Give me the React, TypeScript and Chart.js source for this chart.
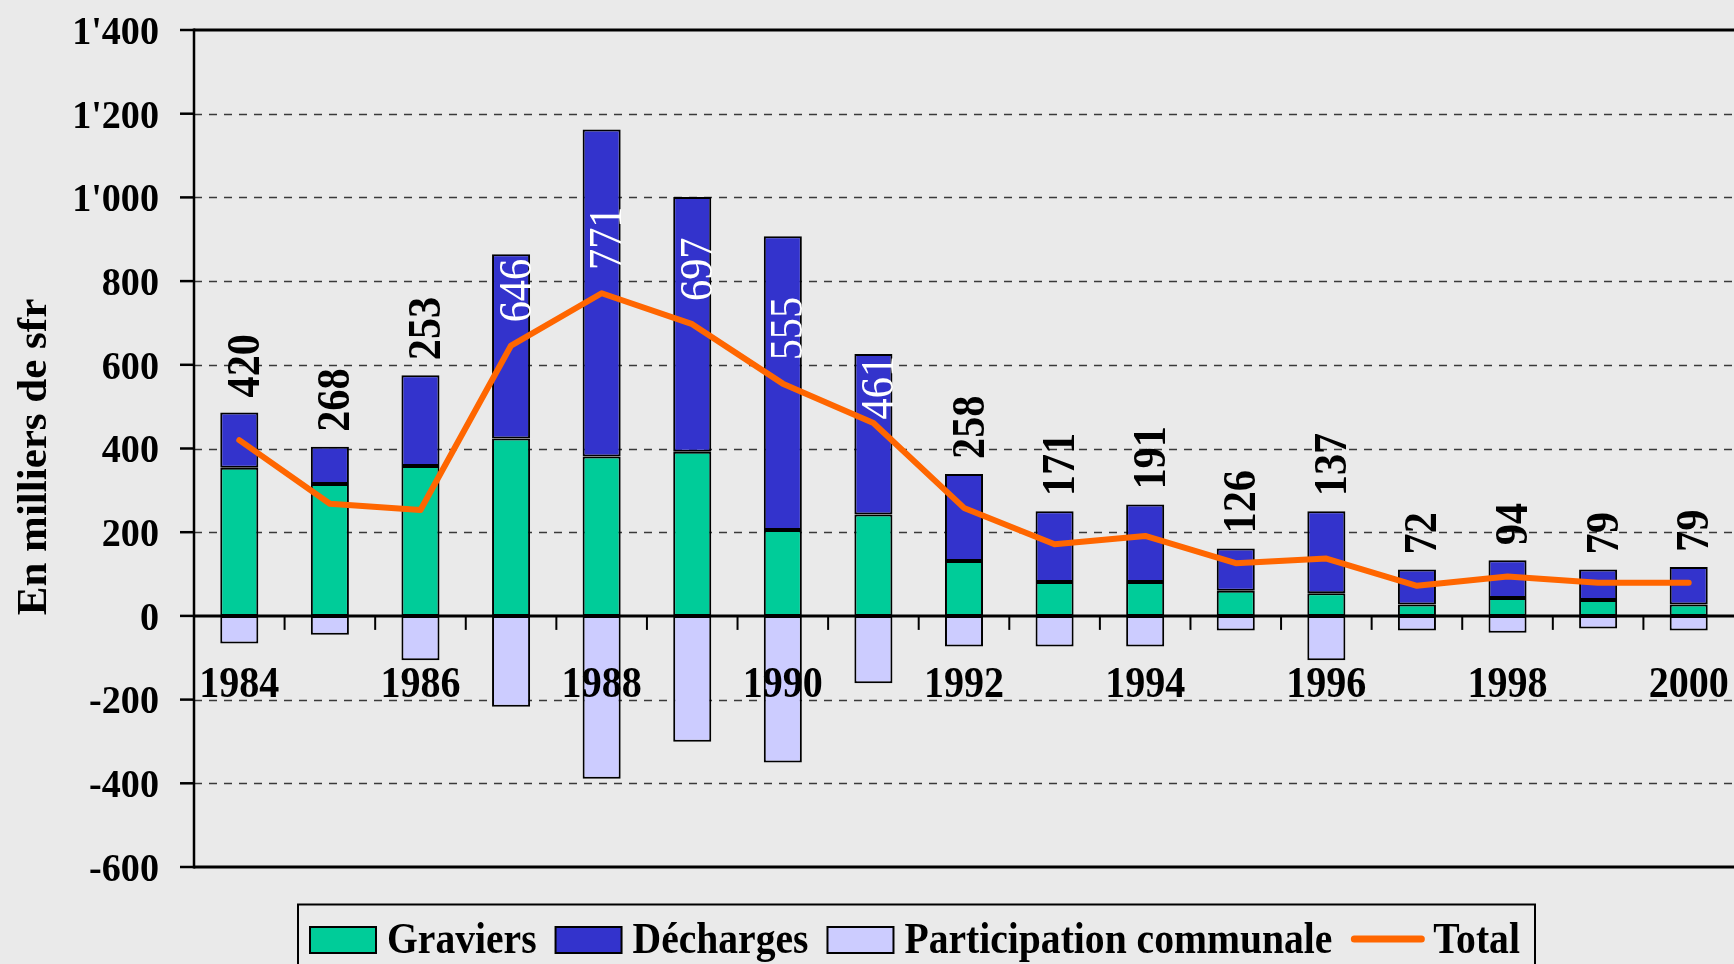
import React, { useEffect, useRef } from "react";
import { Chart, registerables } from "chart.js";

Chart.register(...registerables);

// ---- Data ----
const years = ["1984", "1985", "1986", "1987", "1988", "1989", "1990", "1991", "1992", "1993", "1994", "1995", "1996", "1997", "1998", "1999", "2000"];
const graviers = [354, 315, 358, 424, 381, 392, 205, 242, 131, 81, 81, 60, 54, 27, 43, 38, 27];
const decharges = [132, 89, 217, 440, 781, 609, 702, 384, 208, 169, 185, 101, 196, 84, 90, 73, 90];
const participation = [-66, -45, -106, -217, -389, -301, -350, -161, -73, -73, -73, -35, -106, -35, -40, -30, -35];
const totals = [420, 268, 253, 646, 771, 697, 555, 461, 258, 171, 191, 126, 137, 72, 94, 79, 79];
const yTicks = [-600, -400, -200, 0, 200, 400, 600, 800, 1000, 1200, 1400];
const xTickLabels = ["1984", "1986", "1988", "1990", "1992", "1994", "1996", "1998", "2000"];
const seriesNames = ["Graviers", "Décharges", "Participation communale", "Total"];

// ---- Styles ----
const BG = "#EAEAEA";
const GREEN = "#00CC99";
const BLUE = "#3333CC";
const LAVENDER = "#CCCCFF";
const ORANGE = "#FF6600";
const FONT = "'Liberation Serif', 'Times New Roman', serif";

function fmt(v: number): string {
  const a = Math.abs(v);
  const s = a >= 1000 ? Math.floor(a / 1000) + "'" + String(a % 1000).padStart(3, "0") : String(a);
  return (v < 0 ? "-" : "") + s;
}

function textW(ctx: CanvasRenderingContext2D, text: string, size: number, weight: string, sx: number) {
  ctx.save();
  ctx.font = `${weight} ${size}px ${FONT}`;
  const w = ctx.measureText(text).width * sx;
  ctx.restore();
  return w;
}

function drawText(
  ctx: CanvasRenderingContext2D,
  text: string,
  x: number,
  y: number,
  size: number,
  weight: string,
  sx: number,
  align: CanvasTextAlign,
  color: string,
  rotate = false
) {
  ctx.save();
  ctx.translate(x, y);
  if (rotate) ctx.rotate(-Math.PI / 2);
  ctx.scale(sx, 1);
  ctx.font = `${weight} ${size}px ${FONT}`;
  ctx.fillStyle = color;
  ctx.textAlign = align;
  ctx.textBaseline = "alphabetic";
  ctx.fillText(text, 0, 0);
  ctx.restore();
}

const decorPlugin = {
  id: "decor",
  beforeDraw(chart: any) {
    const ctx = chart.ctx as CanvasRenderingContext2D;
    ctx.save();
    ctx.fillStyle = BG;
    ctx.fillRect(0, 0, chart.width, chart.height);
    ctx.restore();
  },
  beforeDatasetsDraw(chart: any) {
    const ctx = chart.ctx as CanvasRenderingContext2D;
    const { left, right } = chart.chartArea;
    const y = chart.scales.y;
    const x = chart.scales.x;
    ctx.save();
    // dashed grid lines
    ctx.strokeStyle = "#3a3a3a";
    ctx.lineWidth = 1.4;
    ctx.setLineDash([8, 7]);
    yTicks.forEach((v) => {
      if (v === 0 || v === yTicks[0] || v === yTicks[yTicks.length - 1]) return;
      const py = Math.round(y.getPixelForValue(v)) + 0.5;
      ctx.beginPath();
      ctx.moveTo(left, py);
      ctx.lineTo(right, py);
      ctx.stroke();
    });
    ctx.setLineDash([]);
    // solid lines: top, bottom, zero
    ctx.strokeStyle = "#000";
    ctx.lineWidth = 3;
    [yTicks[0], 0, yTicks[yTicks.length - 1]].forEach((v) => {
      const py = y.getPixelForValue(v);
      ctx.beginPath();
      ctx.moveTo(left, py);
      ctx.lineTo(right, py);
      ctx.stroke();
    });
    // y axis line and tick marks
    ctx.lineWidth = 2.5;
    ctx.beginPath();
    ctx.moveTo(left, y.getPixelForValue(yTicks[yTicks.length - 1]) - 1.5);
    ctx.lineTo(left, y.getPixelForValue(yTicks[0]) + 1.5);
    ctx.stroke();
    ctx.lineWidth = 2.5;
    yTicks.forEach((v) => {
      const py = y.getPixelForValue(v);
      ctx.beginPath();
      ctx.moveTo(left - 14, py);
      ctx.lineTo(left, py);
      ctx.stroke();
    });
    // x tick marks at category boundaries below zero line
    const zy = y.getPixelForValue(0);
    ctx.lineWidth = 2;
    for (let i = 0; i < years.length - 1; i++) {
      const bx = (x.getPixelForValue(i) + x.getPixelForValue(i + 1)) / 2;
      ctx.beginPath();
      ctx.moveTo(bx, zy);
      ctx.lineTo(bx, zy + 14);
      ctx.stroke();
    }
    ctx.restore();
  },
  afterDatasetsDraw(chart: any) {
    const ctx = chart.ctx as CanvasRenderingContext2D;
    const { left } = chart.chartArea;
    const y = chart.scales.y;
    const x = chart.scales.x;

    // y tick labels
    const ys = 41;
    yTicks.forEach((v) => {
      const py = y.getPixelForValue(v);
      drawText(ctx, fmt(v), left - 35, py + ys * 0.676 / 2, ys, "bold", 0.93, "right", "#000");
    });

    // y axis title
    drawText(ctx, "En milliers de sfr", 31 + 14.5, 457, 43, "bold", 1, "center", "#000", true);

    // x tick labels
    const zy = y.getPixelForValue(0);
    years.forEach((yr, i) => {
      if (!xTickLabels.includes(yr)) return;
      drawText(ctx, yr, x.getPixelForValue(i), zy + 81, 44, "bold", 0.91, "center", "#000");
    });

    // total data labels (rotated)
    const ds = 46;
    const dsx = 0.92;
    totals.forEach((t, i) => {
      const px = x.getPixelForValue(i) + 4;
      const barTop = y.getPixelForValue(graviers[i] + decharges[i]);
      const lineY = y.getPixelForValue(t);
      const txt = String(t);
      const inside = decharges[i] > 300;
      const weight = inside ? "normal" : "bold";
      const L = textW(ctx, txt, ds, weight, dsx);
      let cy: number;
      if (inside) {
        cy = lineY - 55;
        if (cy - L / 2 < barTop + 2) cy = barTop + 2 + L / 2;
      } else {
        cy = barTop - 15 - L / 2;
      }
      drawText(ctx, txt, px + ds * 0.676 / 2, cy, ds, weight, dsx, "center", inside ? "#fff" : "#000", true);
    });

    // legend
    ctx.save();
    ctx.strokeStyle = "#000";
    ctx.lineWidth = 2;
    ctx.strokeRect(298, 904.5, 1535 - 298, 90);
    ctx.restore();
    const fills = [GREEN, BLUE, LAVENDER];
    let lx = 310;
    const lsize = 44;
    const lsx = 0.9;
    seriesNames.forEach((name, k) => {
      ctx.save();
      let sw = 66;
      if (k < 3) {
        ctx.fillStyle = fills[k];
        ctx.fillRect(lx, 927, sw, 26);
        ctx.strokeStyle = "#000";
        ctx.lineWidth = 2;
        ctx.strokeRect(lx, 927, sw, 26);
      } else {
        sw = 73;
        ctx.strokeStyle = ORANGE;
        ctx.lineWidth = 7;
        ctx.lineCap = "round";
        ctx.beginPath();
        ctx.moveTo(lx + 3, 939);
        ctx.lineTo(lx + sw - 3, 939);
        ctx.stroke();
      }
      ctx.restore();
      const tx = lx + sw + (k < 3 ? 11 : 9);
      drawText(ctx, name, tx, 953, lsize, "bold", lsx, "left", "#000");
      lx = tx + textW(ctx, name, lsize, "bold", lsx) + 19;
    });
  },
};

export default function App() {
  const ref = useRef<HTMLCanvasElement | null>(null);
  useEffect(() => {
    if (!ref.current) return;
    const barCommon = {
      borderColor: "#000",
      borderWidth: 2,
      borderSkipped: false as const,
      barPercentage: 0.42,
      categoryPercentage: 1.0,
      stack: "s",
      order: 1,
    };
    const chart = new Chart(ref.current, {
      type: "bar",
      data: {
        labels: years,
        datasets: [
          { ...barCommon, label: seriesNames[0], data: graviers, backgroundColor: GREEN },
          { ...barCommon, label: seriesNames[1], data: decharges, backgroundColor: BLUE },
          { ...barCommon, label: seriesNames[2], data: participation, backgroundColor: LAVENDER },
          {
            type: "line",
            label: seriesNames[3],
            data: totals,
            borderColor: ORANGE,
            backgroundColor: ORANGE,
            borderWidth: 6,
            pointRadius: 0,
            fill: false,
            tension: 0,
            stack: "total",
            order: 0,
            borderJoinStyle: "round",
            borderCapStyle: "round",
          } as any,
        ],
      },
      options: {
        responsive: false,
        devicePixelRatio: 1,
        animation: false,
        layout: { padding: { left: 194, right: 0, top: 30, bottom: 97 } },
        scales: {
          x: { display: false, stacked: true, offset: true },
          y: { display: false, stacked: true, min: -600, max: 1400 },
        },
        plugins: {
          legend: { display: false },
          tooltip: { enabled: false },
        },
      },
      plugins: [decorPlugin],
    });
    return () => chart.destroy();
  }, []);
  return (
    <div style={{ position: "fixed", left: 0, top: 0, width: 1734, height: 964, background: BG, overflow: "hidden" }}>
      <canvas ref={ref} width={1734} height={964} style={{ display: "block", width: 1734, height: 964 }} />
    </div>
  );
}
